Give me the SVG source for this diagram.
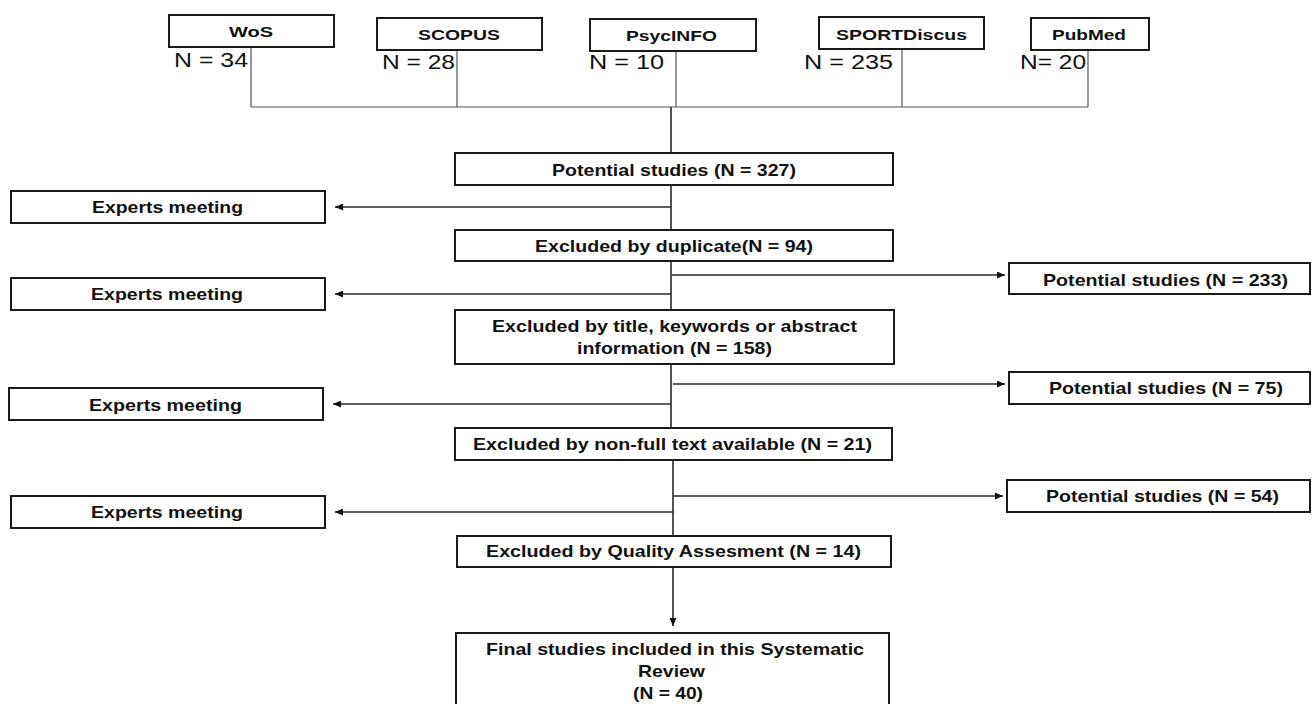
<svg xmlns="http://www.w3.org/2000/svg" width="1312" height="704" viewBox="0 0 1312 704">
<style>
.box{fill:#fff;stroke:#1a1a1a;stroke-width:2}
.lbl{font-family:"Liberation Sans",Arial,sans-serif;font-weight:bold;font-size:17px;fill:#111}
.src{font-family:"Liberation Sans",Arial,sans-serif;font-weight:bold;font-size:15px;fill:#111}
.num{font-family:"Liberation Sans",Arial,sans-serif;font-size:20px;fill:#111}
.ln{fill:none;stroke:#2a2a2a;stroke-width:1.6}
.bus{fill:none;stroke:#555;stroke-width:1.2}
</style>
<defs>
<marker id="ah" markerUnits="userSpaceOnUse" markerWidth="9" markerHeight="7" refX="8" refY="3.5" orient="auto">
<path d="M0,0 L8,3.5 L0,7 Z" fill="#111"/>
</marker>
</defs>
<rect width="1312" height="704" fill="#fff"/>

<g id="connectors">
<path class="bus" d="M251,47 V107 M457,50 V107 M676,51 V107 M902,49 V107 M1088,50 V107 M251,107 H1088"/>
<path class="ln" d="M671,107 V153 M671,185 V230 M671,261 V310 M671,364 V428 M673,460 V536"/>
<path class="ln" d="M673,567 V626" marker-end="url(#ah)"/>
<path class="ln" d="M671,207 H335" marker-end="url(#ah)"/>
<path class="ln" d="M671,294 H335" marker-end="url(#ah)"/>
<path class="ln" d="M672,275 H1005" marker-end="url(#ah)"/>
<path class="ln" d="M673,384 H1005" marker-end="url(#ah)"/>
<path class="ln" d="M671,404 H333" marker-end="url(#ah)"/>
<path class="ln" d="M673,496 H1003" marker-end="url(#ah)"/>
<path class="ln" d="M673,512 H335" marker-end="url(#ah)"/>
</g>

<g id="wos">
<rect class="box" x="169" y="15" width="165" height="32"/>
<text class="src" x="229" y="36.5" textLength="44" lengthAdjust="spacingAndGlyphs">WoS</text>
<text class="num" x="174" y="67" textLength="74" lengthAdjust="spacingAndGlyphs">N = 34</text>
</g>
<g id="scopus">
<rect class="box" x="377" y="18" width="165" height="32"/>
<text class="src" x="418" y="39.5" textLength="82" lengthAdjust="spacingAndGlyphs">SCOPUS</text>
<text class="num" x="382" y="69" textLength="73" lengthAdjust="spacingAndGlyphs">N = 28</text>
</g>
<g id="psycinfo">
<rect class="box" x="590" y="19" width="166" height="32"/>
<text class="src" x="626" y="40.5" textLength="91" lengthAdjust="spacingAndGlyphs">PsycINFO</text>
<text class="num" x="589" y="69" textLength="75" lengthAdjust="spacingAndGlyphs">N = 10</text>
</g>
<g id="sportdiscus">
<rect class="box" x="819" y="17" width="165" height="32"/>
<text class="src" x="836" y="39.5" textLength="131" lengthAdjust="spacingAndGlyphs">SPORTDiscus</text>
<text class="num" x="804" y="69" textLength="89" lengthAdjust="spacingAndGlyphs">N = 235</text>
</g>
<g id="pubmed">
<rect class="box" x="1031" y="18" width="118" height="32"/>
<text class="src" x="1052" y="39.5" textLength="74" lengthAdjust="spacingAndGlyphs">PubMed</text>
<text class="num" x="1020" y="69" textLength="66" lengthAdjust="spacingAndGlyphs">N= 20</text>
</g>

<g id="potential327">
<rect class="box" x="455" y="153" width="438" height="32"/>
<text class="lbl" x="552" y="175.5" textLength="244" lengthAdjust="spacingAndGlyphs">Potential studies (N = 327)</text>
</g>
<g id="experts1">
<rect class="box" x="11" y="191" width="314" height="32"/>
<text class="lbl" x="92" y="213.3" textLength="151" lengthAdjust="spacingAndGlyphs">Experts meeting</text>
</g>
<g id="duplicate">
<rect class="box" x="455" y="230" width="438" height="31"/>
<text class="lbl" x="535" y="252.3" textLength="278" lengthAdjust="spacingAndGlyphs">Excluded by duplicate(N = 94)</text>
</g>
<g id="potential233">
<rect class="box" x="1009" y="263" width="301" height="31"/>
<text class="lbl" x="1043" y="285.7" textLength="245" lengthAdjust="spacingAndGlyphs">Potential studies (N = 233)</text>
</g>
<g id="experts2">
<rect class="box" x="11" y="278" width="314" height="32"/>
<text class="lbl" x="91" y="300" textLength="152" lengthAdjust="spacingAndGlyphs">Experts meeting</text>
</g>
<g id="title">
<rect class="box" x="455" y="310" width="439" height="54"/>
<text class="lbl" x="492" y="332.3" textLength="365" lengthAdjust="spacingAndGlyphs">Excluded by title, keywords or abstract</text>
<text class="lbl" x="577" y="354.3" textLength="195" lengthAdjust="spacingAndGlyphs">information (N = 158)</text>
</g>
<g id="potential75">
<rect class="box" x="1009" y="372" width="301" height="32"/>
<text class="lbl" x="1049" y="394" textLength="234" lengthAdjust="spacingAndGlyphs">Potential studies (N = 75)</text>
</g>
<g id="experts3">
<rect class="box" x="9" y="388" width="314" height="32"/>
<text class="lbl" x="89" y="410.7" textLength="153" lengthAdjust="spacingAndGlyphs">Experts meeting</text>
</g>
<g id="nonfull">
<rect class="box" x="455" y="428" width="437" height="32"/>
<text class="lbl" x="473" y="450" textLength="399" lengthAdjust="spacingAndGlyphs">Excluded by non-full text available (N = 21)</text>
</g>
<g id="potential54">
<rect class="box" x="1007" y="480" width="303" height="32"/>
<text class="lbl" x="1046" y="502.3" textLength="233" lengthAdjust="spacingAndGlyphs">Potential studies (N = 54)</text>
</g>
<g id="experts4">
<rect class="box" x="11" y="496" width="314" height="32"/>
<text class="lbl" x="91" y="518.3" textLength="152" lengthAdjust="spacingAndGlyphs">Experts meeting</text>
</g>
<g id="quality">
<rect class="box" x="457" y="536" width="434" height="31"/>
<text class="lbl" x="486" y="557.3" textLength="375" lengthAdjust="spacingAndGlyphs">Excluded by Quality Assesment (N = 14)</text>
</g>
<g id="final">
<rect class="box" x="456" y="633" width="433" height="90"/>
<text class="lbl" x="486" y="655" textLength="378" lengthAdjust="spacingAndGlyphs">Final studies included in this Systematic</text>
<text class="lbl" x="638" y="676.7" textLength="67" lengthAdjust="spacingAndGlyphs">Review</text>
<text class="lbl" x="633" y="699.3" textLength="70" lengthAdjust="spacingAndGlyphs">(N = 40)</text>
</g>
</svg>
